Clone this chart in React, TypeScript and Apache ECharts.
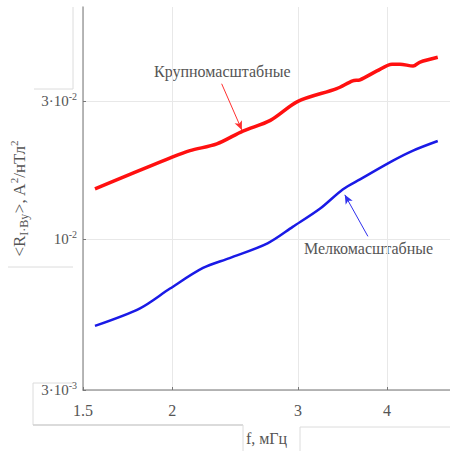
import React, { useEffect, useRef } from "react";
import * as echarts from "echarts";

const freqLarge = [1.559, 1.745, 1.992, 2.118, 2.31, 2.512, 2.745, 3.0, 3.4, 3.58, 3.666, 3.871, 4.065, 4.17, 4.35, 4.45, 4.71];
const valLarge = [0.0149, 0.0167, 0.0191, 0.0202, 0.0213, 0.0236, 0.0257, 0.0299, 0.0331, 0.0352, 0.0355, 0.0381, 0.0402, 0.0402, 0.0396, 0.0409, 0.0425];
const freqSmall = [1.559, 1.803, 1.986, 2.209, 2.407, 2.72, 2.95, 3.22, 3.47, 3.666, 4.077, 4.35, 4.71];
const valSmall = [0.005, 0.00575, 0.00673, 0.00793, 0.00858, 0.00965, 0.011, 0.0127, 0.01485, 0.01607, 0.01865, 0.0202, 0.0218];
const xTicks = [1.5, 2, 3, 4];
const yTicks = [0.003, 0.01, 0.03];
const yTickLabels: Record<string, string> = { "0.003": "{a|3·10}{s|-3}", "0.01": "{a|10}{s|-2}", "0.03": "{a|3·10}{s|-2}" };
const largeName = "Крупномасштабные";
const smallName = "Мелкомасштабные";
const largeArrow = [[2.346, 0.0344], [2.504, 0.0238]];
const smallArrow = [[3.76, 0.0102], [3.49, 0.0142]];

const serif = "'Liberation Serif', serif";
const txt = "#555";

export default function App() {
  const ref = useRef<HTMLDivElement>(null);
  useEffect(() => {
    document.body.style.margin = "0";
    const chart = echarts.init(ref.current!, null, { renderer: "svg" });
    const faint = { stroke: "#dcdcdc", lineWidth: 1 };
    chart.setOption({
      animation: false,
      backgroundColor: "#fff",
      textStyle: { fontFamily: serif },
      grid: { left: 83, right: 0, top: 7, bottom: 55 },
      xAxis: {
        type: "log",
        logBase: 10,
        min: 1.5,
        max: 4.9,
        name: "f, мГц",
        nameLocation: "middle",
        nameGap: 40,
        nameTextStyle: { fontFamily: serif, fontSize: 16, color: txt },
        axisLine: { lineStyle: { color: "#a0a0a0", width: 1.5 } },
        axisTick: { inside: true, length: 3, customValues: xTicks, lineStyle: { color: "#777" } },
        axisLabel: { customValues: xTicks, fontFamily: serif, fontSize: 16, color: txt, margin: 12, formatter: (v: number) => String(v) },
        splitLine: { show: true, lineStyle: { color: "#e8e8e8", width: 1 } },
      },
      yAxis: {
        type: "log",
        logBase: 10,
        min: 0.003,
        max: 0.0634,
        name: "{a|<R}{sub|I·By}{a|>, A}{sup|2}{a|/нТл}{sup|2}",
        nameLocation: "middle",
        nameGap: 44,
        nameTextStyle: {
          fontFamily: serif,
          rich: {
            a: { fontFamily: serif, fontSize: 17, color: txt },
            sub: { fontFamily: serif, fontSize: 12, color: txt, padding: [9, 0, 0, 0] },
            sup: { fontFamily: serif, fontSize: 11, color: txt, padding: [0, 0, 11, 0] },
          },
        },
        axisLine: { lineStyle: { color: "#a0a0a0", width: 1.5 } },
        axisTick: { inside: true, length: 3, customValues: yTicks, lineStyle: { color: "#777" } },
        axisLabel: {
          customValues: yTicks,
          margin: 6,
          fontFamily: serif,
          formatter: (v: number) => yTickLabels[String(Number(v.toPrecision(3)))] || "",
          rich: {
            a: { fontFamily: serif, fontSize: 15, color: txt },
            s: { fontFamily: serif, fontSize: 10, color: txt, padding: [0, 0, 9, 0] },
          },
        },
        splitLine: { show: true, lineStyle: { color: "#e8e8e8", width: 1 } },
      },
      series: [
        {
          name: largeName,
          type: "line",
          data: freqLarge.map((f, i) => [f, valLarge[i]]),
          showSymbol: false,
          smooth: 0.3,
          lineStyle: { color: "#ff1010", width: 3.5 },
          markLine: {
            silent: true,
            symbol: ["none", "arrow"],
            symbolSize: [6, 9],
            label: { show: false },
            lineStyle: { color: "#ff3030", width: 1, type: "solid" },
            data: [[{ coord: largeArrow[0] }, { coord: largeArrow[1] }]],
          },
        },
        {
          name: smallName,
          type: "line",
          data: freqSmall.map((f, i) => [f, valSmall[i]]),
          showSymbol: false,
          smooth: 0.3,
          lineStyle: { color: "#1a1ae6", width: 2.5 },
          markLine: {
            silent: true,
            symbol: ["none", "arrow"],
            symbolSize: [6, 9],
            label: { show: false },
            lineStyle: { color: "#3030ee", width: 1, type: "solid" },
            data: [[{ coord: smallArrow[0] }, { coord: smallArrow[1] }]],
          },
        },
      ],
      graphic: [
        { type: "text", left: 154, top: 63, style: { text: largeName, fontFamily: serif, fontSize: 16, fill: txt } },
        { type: "text", left: 304, top: 240, style: { text: smallName, fontFamily: serif, fontSize: 16, fill: txt } },
        { type: "line", shape: { x1: 73, y1: 7, x2: 73, y2: 89 }, style: faint },
        { type: "line", shape: { x1: 34, y1: 89, x2: 73, y2: 89 }, style: faint },
        { type: "line", shape: { x1: 8, y1: 267, x2: 73, y2: 267 }, style: faint },
        { type: "line", shape: { x1: 33, y1: 383, x2: 73, y2: 383 }, style: faint },
        { type: "line", shape: { x1: 33, y1: 383, x2: 33, y2: 425 }, style: faint },
        { type: "line", shape: { x1: 33, y1: 425, x2: 243, y2: 425 }, style: { stroke: "#cfcfcf", lineWidth: 1.5 } },
        { type: "line", shape: { x1: 243, y1: 425, x2: 243, y2: 451 }, style: faint },
        { type: "line", shape: { x1: 300, y1: 427, x2: 450, y2: 427 }, style: faint },
        { type: "line", shape: { x1: 300, y1: 427, x2: 300, y2: 451 }, style: faint },
      ],
    });
    return () => chart.dispose();
  }, []);
  return <div ref={ref} style={{ position: "fixed", left: 0, top: 0, width: 450, height: 451 }} />;
}
